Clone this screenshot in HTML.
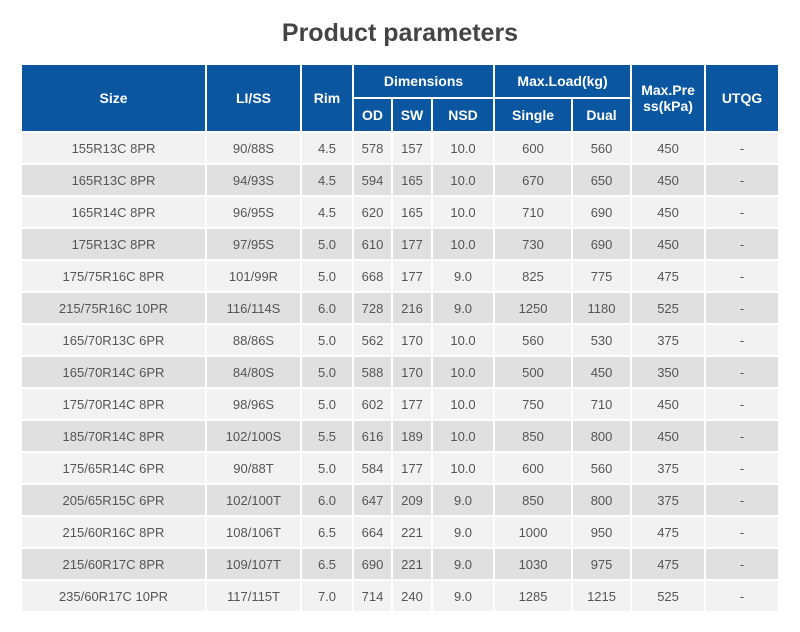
<!DOCTYPE html>
<html><head><style>
body{margin:0;width:800px;height:632px;background:#fff;font-family:"Liberation Sans",Arial,sans-serif;position:relative;overflow:hidden}
h1{position:absolute;top:15px;left:0;width:800px;margin:0;text-align:center;font-size:25px;font-weight:bold;color:#444;line-height:36px}
table{position:absolute;left:20px;top:63px;border-collapse:separate;border-spacing:2px;table-layout:fixed;width:760px}
td,th{padding:0;text-align:center;vertical-align:middle}
th{background:#0b56a0;color:#fff;font-size:14px;font-weight:bold;height:32px}
td{height:30px;font-size:13px;color:#555}
tr.a td{background:#f2f2f2}
tr.b td{background:#e0e0e0}
</style></head><body>
<h1>Product parameters</h1>
<table>
<colgroup><col style="width:183px"><col style="width:93px"><col style="width:50px"><col style="width:37px"><col style="width:38px"><col style="width:60px"><col style="width:76px"><col style="width:57px"><col style="width:72px"><col style="width:72px"></colgroup>
<tr><th rowspan="2">Size</th><th rowspan="2">LI/SS</th><th rowspan="2">Rim</th><th colspan="3">Dimensions</th><th colspan="2">Max.Load(kg)</th><th rowspan="2">Max.Pre<br>ss(kPa)</th><th rowspan="2">UTQG</th></tr>
<tr><th>OD</th><th>SW</th><th>NSD</th><th>Single</th><th>Dual</th></tr>
<tr class="a"><td>155R13C 8PR</td><td>90/88S</td><td>4.5</td><td>578</td><td>157</td><td>10.0</td><td>600</td><td>560</td><td>450</td><td>-</td></tr>
<tr class="b"><td>165R13C 8PR</td><td>94/93S</td><td>4.5</td><td>594</td><td>165</td><td>10.0</td><td>670</td><td>650</td><td>450</td><td>-</td></tr>
<tr class="a"><td>165R14C 8PR</td><td>96/95S</td><td>4.5</td><td>620</td><td>165</td><td>10.0</td><td>710</td><td>690</td><td>450</td><td>-</td></tr>
<tr class="b"><td>175R13C 8PR</td><td>97/95S</td><td>5.0</td><td>610</td><td>177</td><td>10.0</td><td>730</td><td>690</td><td>450</td><td>-</td></tr>
<tr class="a"><td>175/75R16C 8PR</td><td>101/99R</td><td>5.0</td><td>668</td><td>177</td><td>9.0</td><td>825</td><td>775</td><td>475</td><td>-</td></tr>
<tr class="b"><td>215/75R16C 10PR</td><td>116/114S</td><td>6.0</td><td>728</td><td>216</td><td>9.0</td><td>1250</td><td>1180</td><td>525</td><td>-</td></tr>
<tr class="a"><td>165/70R13C 6PR</td><td>88/86S</td><td>5.0</td><td>562</td><td>170</td><td>10.0</td><td>560</td><td>530</td><td>375</td><td>-</td></tr>
<tr class="b"><td>165/70R14C 6PR</td><td>84/80S</td><td>5.0</td><td>588</td><td>170</td><td>10.0</td><td>500</td><td>450</td><td>350</td><td>-</td></tr>
<tr class="a"><td>175/70R14C 8PR</td><td>98/96S</td><td>5.0</td><td>602</td><td>177</td><td>10.0</td><td>750</td><td>710</td><td>450</td><td>-</td></tr>
<tr class="b"><td>185/70R14C 8PR</td><td>102/100S</td><td>5.5</td><td>616</td><td>189</td><td>10.0</td><td>850</td><td>800</td><td>450</td><td>-</td></tr>
<tr class="a"><td>175/65R14C 6PR</td><td>90/88T</td><td>5.0</td><td>584</td><td>177</td><td>10.0</td><td>600</td><td>560</td><td>375</td><td>-</td></tr>
<tr class="b"><td>205/65R15C 6PR</td><td>102/100T</td><td>6.0</td><td>647</td><td>209</td><td>9.0</td><td>850</td><td>800</td><td>375</td><td>-</td></tr>
<tr class="a"><td>215/60R16C 8PR</td><td>108/106T</td><td>6.5</td><td>664</td><td>221</td><td>9.0</td><td>1000</td><td>950</td><td>475</td><td>-</td></tr>
<tr class="b"><td>215/60R17C 8PR</td><td>109/107T</td><td>6.5</td><td>690</td><td>221</td><td>9.0</td><td>1030</td><td>975</td><td>475</td><td>-</td></tr>
<tr class="a"><td>235/60R17C 10PR</td><td>117/115T</td><td>7.0</td><td>714</td><td>240</td><td>9.0</td><td>1285</td><td>1215</td><td>525</td><td>-</td></tr>
</table>
</body></html>
